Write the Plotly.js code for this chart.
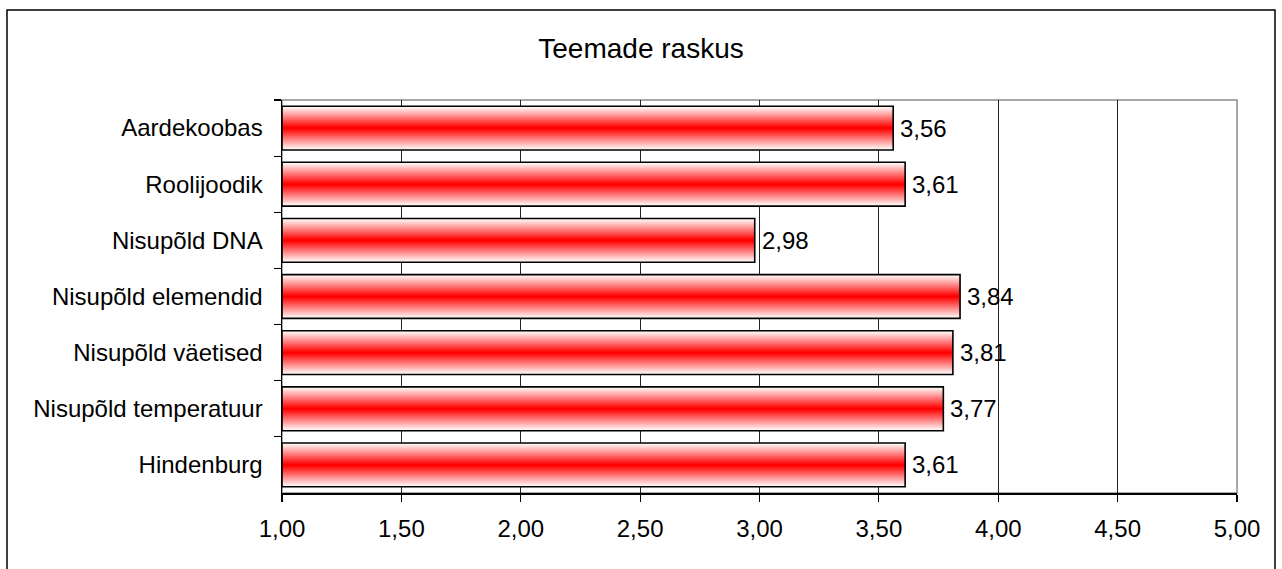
<!DOCTYPE html>
<html>
<head>
<meta charset="utf-8">
<script src="https://cdn.plot.ly/plotly-3.0.1.min.js"></script>
<style>
html,body{margin:0;padding:0;background:#fff;}
#chart{width:1282px;height:569px;}
</style>
</head>
<body>
<div id="chart"></div>
<script>
const categories = ["Aardekoobas","Roolijoodik","Nisupõld DNA","Nisupõld elemendid","Nisupõld väetised","Nisupõld temperatuur","Hindenburg"];
const values = [3.56, 3.61, 2.98, 3.84, 3.81, 3.77, 3.61];
const tickValues = [1.0, 1.5, 2.0, 2.5, 3.0, 3.5, 4.0, 4.5, 5.0];
const axisBase = 1.0;
const chartTitle = "Teemade raskus";

const FONT = "Liberation Sans, Arial, sans-serif";
const BAR_W = 0.78;
const N = 22;
const lengths = values.map(v => v - axisBase);
const traces = [];
for (let k = 0; k < N; k++) {
  const t = k / (N - 1);
  const g = Math.round(252 * (1 - t));
  traces.push({
    type: 'bar', orientation: 'h',
    y: categories, x: lengths, base: axisBase,
    width: BAR_W * (1 - k / N),
    marker: {color: `rgb(255,${g},${g})`, line: {width: 0}},
    hoverinfo: 'skip', showlegend: false
  });
}
traces.push({
  type: 'bar', orientation: 'h',
  y: categories, x: lengths, base: axisBase,
  width: BAR_W,
  marker: {color: 'rgba(0,0,0,0)', line: {color: '#000', width: 1.6}},
  hoverinfo: 'skip', showlegend: false
});

const fmt = v => v.toFixed(2).replace('.', ',');
const annotations = values.map((v, i) => ({
  x: v, y: categories[i], xref: 'x', yref: 'y',
  text: fmt(v), showarrow: false, xanchor: 'left', yanchor: 'middle',
  xshift: 5, font: {family: FONT, size: 24, color: '#000'}
}));

const L = 282, R = 1237, T = 100, B = 493, W = 1282, H = 569;
const pw = R - L, ph = B - T;
const shapes = [
  {type: 'rect', xref: 'paper', yref: 'paper', x0: 0, x1: 1, y0: 0, y1: 1,
   line: {color: '#8c8c8c', width: 1.5}, fillcolor: 'rgba(0,0,0,0)', layer: 'below'},
  {type: 'rect', xref: 'paper', yref: 'paper',
   x0: (7 - L) / pw, x1: (1275 - L) / pw, y0: (B - 580) / ph, y1: (B - 10) / ph,
   line: {color: '#000', width: 1.5}, fillcolor: 'rgba(0,0,0,0)', layer: 'below'}
];

const layout = {
  width: W, height: H,
  margin: {l: L, r: W - R, t: T, b: H - B, pad: 0},
  paper_bgcolor: '#fff', plot_bgcolor: '#fff',
  separators: ',.',
  barmode: 'overlay',
  title: {text: chartTitle, font: {family: FONT, size: 28, color: '#000'},
          x: 0.5, xref: 'container', y: 1 - 48 / H, yref: 'container', yanchor: 'middle'},
  xaxis: {
    range: [tickValues[0], tickValues[tickValues.length - 1]],
    tickmode: 'array', tickvals: tickValues,
    ticktext: tickValues.map(fmt),
    ticks: 'outside', ticklen: 7, tickwidth: 1.2, tickcolor: '#000',
    showgrid: true, gridcolor: '#222', gridwidth: 1,
    showline: true, linecolor: '#000', linewidth: 1.5,
    zeroline: false,
    tickfont: {family: FONT, size: 24, color: '#000'},
    ticklabelstandoff: 7,
    fixedrange: true
  },
  yaxis: {
    type: 'category', autorange: 'reversed',
    categoryorder: 'array', categoryarray: categories,
    ticks: 'outside', tickson: 'boundaries', ticklen: 7, tickwidth: 1.2, tickcolor: '#000',
    showgrid: false,
    showline: true, linecolor: '#000', linewidth: 1.5,
    tickfont: {family: FONT, size: 24, color: '#000'},
    ticklabelstandoff: 13,
    fixedrange: true
  },
  shapes: shapes,
  annotations: annotations
};

Plotly.newPlot('chart', traces, layout, {displayModeBar: false, staticPlot: true});
</script>
</body>
</html>
